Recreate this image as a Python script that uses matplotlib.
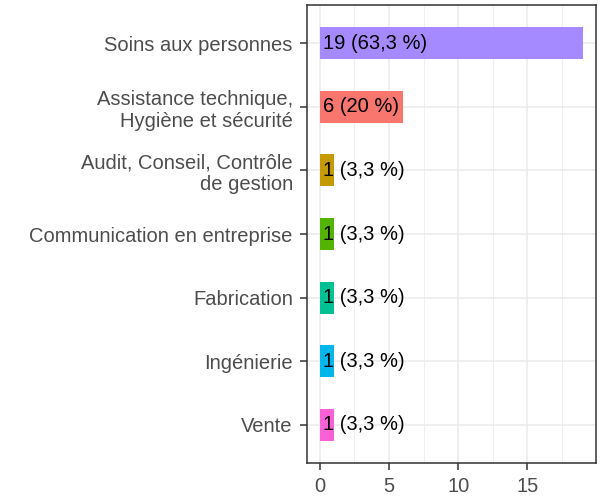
import matplotlib.pyplot as plt
import numpy as np

plt.rcParams['font.family'] = ['Liberation Sans', 'DejaVu Sans']

# données (de haut en bas)
categories = ['Soins aux personnes',
              'Assistance technique,\nHygiène et sécurité',
              'Audit, Conseil, Contrôle\nde gestion',
              'Communication en entreprise',
              'Fabrication',
              'Ingénierie',
              'Vente']
values = [19, 6, 1, 1, 1, 1, 1]
labels = ['19 (63,3 %)', '6 (20 %)', '1 (3,3 %)', '1 (3,3 %)',
          '1 (3,3 %)', '1 (3,3 %)', '1 (3,3 %)']
colors = ['#A58AFF', '#F8766D', '#C49A00', '#53B400',
          '#00C094', '#00B6EB', '#FB61D7']

fig = plt.figure(figsize=(6.03, 4.96), dpi=100)
ax = fig.add_axes([0.5086, 0.0665, 0.4798, 0.9234])

y = np.arange(len(categories))[::-1] + 1
ax.barh(y, values, height=0.5, color=colors, zorder=2)
for yi, lab in zip(y, labels):
    ax.text(0.2, yi, lab, ha='left', va='center', fontsize=14.5,
            color='black', zorder=3)

ax.set_xlim(-0.95, 19.95)
ax.set_ylim(0.4, 7.6)
ax.set_yticks(y)
ax.set_yticklabels(categories, ha='right', multialignment='right',
                   linespacing=1.2)
ax.set_xticks([0, 5, 10, 15])
ax.set_xticks([2.5, 7.5, 12.5, 17.5], minor=True)
ax.tick_params(axis='both', which='major', labelsize=14.5, labelcolor='#4D4D4D',
               color='#333333', length=5, width=1.1, pad=5)
ax.tick_params(axis='x', which='minor', length=0)
ax.grid(True, which='major', color='#EBEBEB', lw=1.1, zorder=0)
ax.grid(True, which='minor', axis='x', color='#EBEBEB', lw=0.55, zorder=0)
for s in ax.spines.values():
    s.set_color('#333333')
    s.set_linewidth(1.1)

fig.savefig('out.png', dpi=100)
